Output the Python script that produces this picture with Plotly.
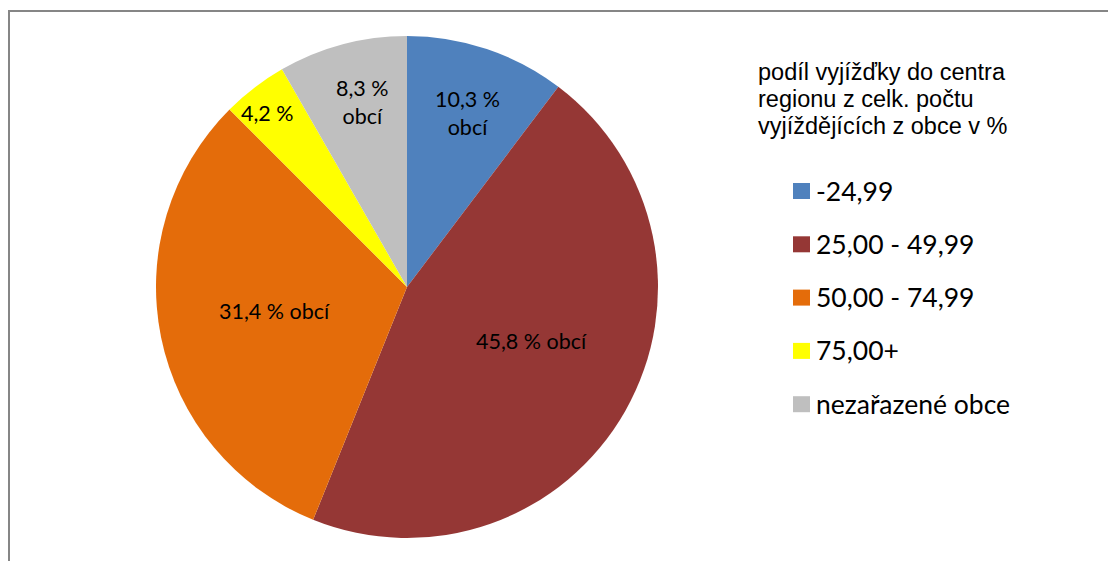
import math
import plotly.graph_objects as go

# ---- data ----
categories = ["-24,99", "25,00 - 49,99", "50,00 - 74,99", "75,00+", "nezařazené obce"]
shares = [10.3, 45.8, 31.4, 4.2, 8.3]
slice_labels = ["10,3 %<br>obcí", "45,8 % obcí", "31,4 % obcí", "4,2 %", "8,3 %<br>obcí"]
colors = ["#4F81BD", "#953735", "#E46C0A", "#FFFF00", "#BFBFBF"]
legend_title_lines = ["podíl vyjížďky do centra", "regionu z celk. počtu", "vyjíždějících z obce v %"]

# ---- layout / style ----
OFF = 8  # default page body margin
W, H = 1116 - OFF, 561 - OFF
CX, CY, R = 407 - OFF, 287 - OFF, 251
label_radius = [0.733, 0.539, 0.538, 0.887, 0.758]
label_angle_shift = [0.5, -6.0, 1.3, -1.2, 1.5]


def px_x(x):
    return x / W


def px_y(y):
    return 1 - y / H


fig = go.Figure()
fig.add_trace(go.Pie(
    labels=categories, values=shares, sort=False, direction="clockwise",
    rotation=0, marker=dict(colors=colors, line=dict(width=0)),
    textinfo="none", hoverinfo="label+percent", showlegend=False,
    domain=dict(x=[px_x(CX - R), px_x(CX + R)], y=[px_y(CY + R), px_y(CY - R)]),
))

annotations = []
total = sum(shares)
cum = 0.0
for i, v in enumerate(shares):
    mid = (cum + v / 2) / total * 360 + label_angle_shift[i]
    cum += v
    rr = R * label_radius[i]
    lx = CX + rr * math.sin(math.radians(mid))
    ly = CY - rr * math.cos(math.radians(mid))
    annotations.append(dict(
        x=px_x(lx), y=px_y(ly), xref="paper", yref="paper", text=slice_labels[i],
        showarrow=False, xanchor="center", yanchor="middle", align="center",
        font=dict(family="Lato", size=21.5, color="black"),
    ))

# legend title (one annotation per line for exact line spacing)
title_y0, title_dy = 72 - OFF, 27
for j, line in enumerate(legend_title_lines):
    annotations.append(dict(
        x=px_x(756 - OFF), y=px_y(title_y0 + j * title_dy), xref="paper", yref="paper",
        text=line, showarrow=False, xanchor="left", yanchor="middle", align="left",
        font=dict(family="Liberation Sans", size=23.5, color="black"),
    ))

shapes = []
leg_y0, leg_dy = 191 - OFF, 53.3
for i, (cat, col) in enumerate(zip(categories, colors)):
    yc = leg_y0 + i * leg_dy
    shapes.append(dict(type="rect", xref="paper", yref="paper",
                       x0=px_x(793 - OFF), x1=px_x(810 - OFF),
                       y0=px_y(yc + 8), y1=px_y(yc - 8),
                       fillcolor=col, line=dict(width=0)))
    annotations.append(dict(
        x=px_x(814 - OFF), y=px_y(yc - 0.5), xref="paper", yref="paper", text=cat,
        showarrow=False, xanchor="left", yanchor="middle", align="left",
        font=dict(family="Lato", size=26.5, color="black"),
    ))

# chart frame (top and left edges visible; right/bottom run off the page)
shapes.append(dict(type="rect", xref="paper", yref="paper",
                   x0=px_x(1), x1=1.05, y0=-0.05, y1=px_y(11 - OFF),
                   line=dict(color="#868686", width=2), fillcolor="rgba(0,0,0,0)"))

fig.update_layout(
    width=W, height=H, margin=dict(l=0, r=0, t=0, b=0),
    paper_bgcolor="white", plot_bgcolor="white",
    annotations=annotations, shapes=shapes, showlegend=False,
)
fig.write_html("out.html")
